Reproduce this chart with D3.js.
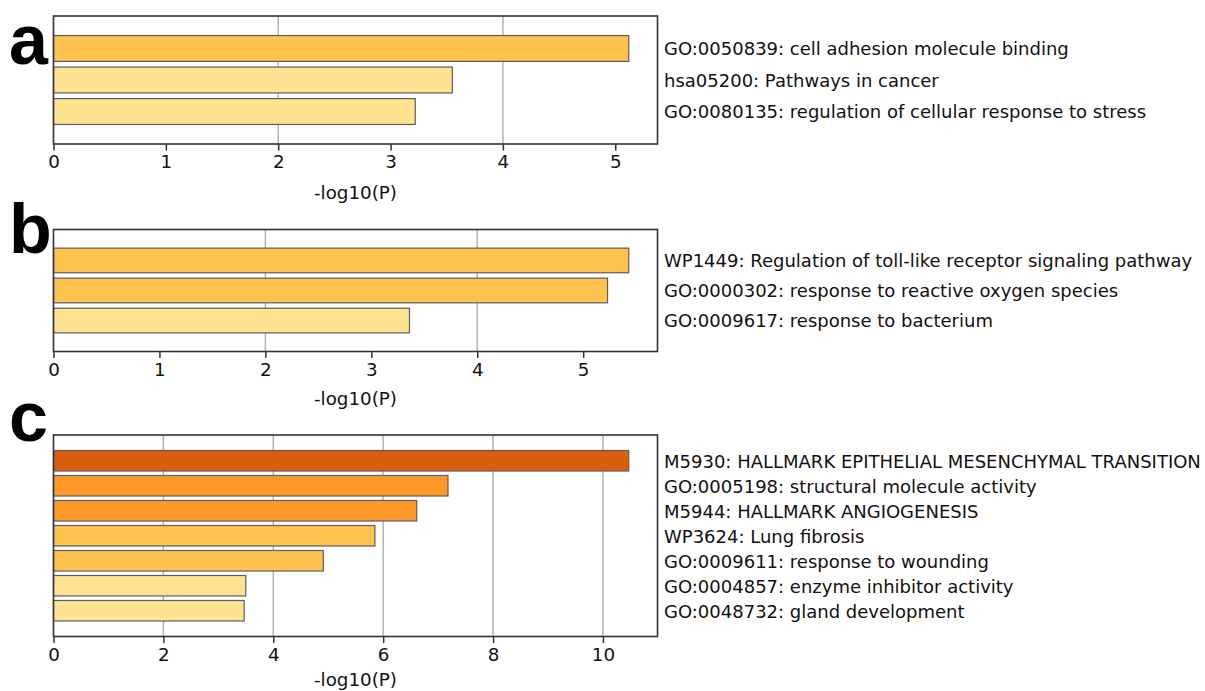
<!DOCTYPE html>
<html>
<head>
<meta charset="utf-8">
<script src="https://cdn.jsdelivr.net/npm/d3@7"></script>
<style>
  body { margin: 0; background: #fff; }
  svg { display: block; }
</style>
</head>
<body>
<svg id="chart" width="1205" height="691"></svg>
<script>
// Panel a
const termsA = [
  "GO:0050839: cell adhesion molecule binding",
  "hsa05200: Pathways in cancer",
  "GO:0080135: regulation of cellular response to stress"
];
const valuesA = [5.12, 3.55, 3.22];
const ticksA = [0, 1, 2, 3, 4, 5];
const gridA = [2, 4];

// Panel b
const termsB = [
  "WP1449: Regulation of toll-like receptor signaling pathway",
  "GO:0000302: response to reactive oxygen species",
  "GO:0009617: response to bacterium"
];
const valuesB = [5.43, 5.23, 3.36];
const ticksB = [0, 1, 2, 3, 4, 5];
const gridB = [2, 4];

// Panel c
const termsC = [
  "M5930: HALLMARK EPITHELIAL MESENCHYMAL TRANSITION",
  "GO:0005198: structural molecule activity",
  "M5944: HALLMARK ANGIOGENESIS",
  "WP3624: Lung fibrosis",
  "GO:0009611: response to wounding",
  "GO:0004857: enzyme inhibitor activity",
  "GO:0048732: gland development"
];
const valuesC = [10.47, 7.18, 6.61, 5.85, 4.91, 3.50, 3.47];
const ticksC = [0, 2, 4, 6, 8, 10];
const gridC = [2, 4, 6, 8, 10];

const axisTitle = "-log10(P)";

// Bar colour by significance bin
const colour = d3.scaleThreshold()
  .domain([4, 6, 10])
  .range(["#FEE391", "#FEC44F", "#FE9929", "#D95F0E"]);

// Layout of the three stacked panels
const plotLeft = 53.5, plotRight = 657.5;
const panels = [
  { letter: "a", terms: termsA, values: valuesA, ticks: ticksA, grid: gridA, top: 16, bottom: 144, letterY: 64, titleY: 199 },
  { letter: "b", terms: termsB, values: valuesB, ticks: ticksB, grid: gridB, top: 229.5, bottom: 351.5, letterY: 253, titleY: 405 },
  { letter: "c", terms: termsC, values: valuesC, ticks: ticksC, grid: gridC, top: 435, bottom: 636.5, letterY: 441, titleY: 686 }
];

const svg = d3.select("#chart");
const font = "'DejaVu Sans', sans-serif";
const textSize = "18.3px";
const termSize = "18px";

panels.forEach(p => {
  const n = p.values.length;
  const x = d3.scaleLinear().domain([0, d3.max(p.values) * 1.05]).range([plotLeft, plotRight]);
  const y = d3.scaleLinear().domain([-1.03, n - 1 + 1.03]).range([p.top, p.bottom]);
  const barH = 0.82;
  const g = svg.append("g");

  // vertical grid lines
  g.selectAll("line.grid").data(p.grid).join("line")
    .attr("class", "grid")
    .attr("x1", d => x(d)).attr("x2", d => x(d))
    .attr("y1", p.top).attr("y2", p.bottom)
    .attr("stroke", "#b3b3b3").attr("stroke-width", 1.5);

  // bars
  g.selectAll("rect.bar").data(p.values).join("rect")
    .attr("class", "bar")
    .attr("x", x(0))
    .attr("y", (d, i) => y(i - barH / 2))
    .attr("width", d => x(d) - x(0))
    .attr("height", y(barH) - y(0))
    .attr("fill", d => colour(d))
    .attr("stroke", "#5a5d68").attr("stroke-width", 1.2);

  // frame
  g.append("rect")
    .attr("x", plotLeft).attr("y", p.top)
    .attr("width", plotRight - plotLeft).attr("height", p.bottom - p.top)
    .attr("fill", "none").attr("stroke", "#333").attr("stroke-width", 1.6);

  // x axis
  const axis = d3.axisBottom(x).tickValues(p.ticks).tickFormat(d3.format("d"))
    .tickSize(6.5).tickPadding(5);
  const ax = g.append("g").attr("transform", `translate(0,${p.bottom})`).call(axis);
  ax.select(".domain").remove();
  ax.selectAll(".tick line").attr("stroke", "#333").attr("stroke-width", 1.5);
  ax.selectAll(".tick text").attr("fill", "#111")
    .style("font-family", font).style("font-size", textSize);

  // axis title
  g.append("text")
    .attr("x", (plotLeft + plotRight) / 2).attr("y", p.titleY)
    .attr("text-anchor", "middle")
    .style("font-family", font).style("font-size", textSize).attr("fill", "#111")
    .text(axisTitle);

  // term labels to the right of the frame
  g.selectAll("text.term").data(p.terms).join("text")
    .attr("class", "term")
    .attr("x", plotRight + 6.5)
    .attr("y", (d, i) => y(i))
    .attr("dy", "0.38em")
    .style("font-family", font).style("font-size", termSize).attr("fill", "#111")
    .text(d => d);

  // panel letter
  g.append("text")
    .attr("x", 9).attr("y", p.letterY)
    .style("font-family", "'Liberation Sans', Arial, sans-serif")
    .style("font-weight", "bold").style("font-size", "70px").attr("fill", "#000")
    .text(p.letter);
});
</script>
</body>
</html>
